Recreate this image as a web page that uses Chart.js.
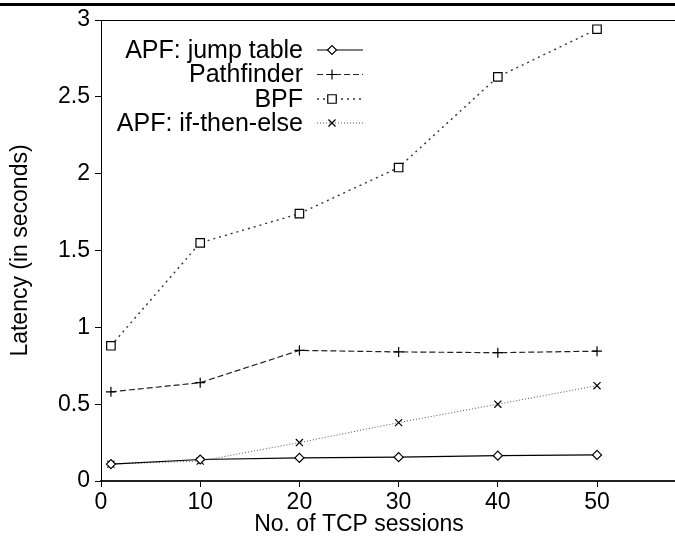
<!DOCTYPE html>
<html>
<head>
<meta charset="utf-8">
<script src="https://cdn.jsdelivr.net/npm/chart.js@4/dist/chart.umd.min.js"></script>
<style>
  html, body { margin: 0; padding: 0; background: #fff; overflow: hidden; }
  #wrap { position: relative; width: 675px; height: 542px; }
</style>
</head>
<body>
<div id="wrap"><canvas id="chart" width="675" height="542"></canvas></div>
<script>
// --- Data ---
const sessions = [1, 10, 20, 30, 40, 50];
const xTicks = [0, 10, 20, 30, 40, 50];
const yTicks = [0, 0.5, 1, 1.5, 2, 2.5, 3];

const apfJumpTable = [0.11, 0.14, 0.15, 0.155, 0.165, 0.17];
const pathfinder = [0.58, 0.64, 0.85, 0.84, 0.835, 0.845];
const bpf = [0.88, 1.55, 1.74, 2.04, 2.63, 2.94];
const apfIfThenElse = [0.11, 0.13, 0.25, 0.38, 0.50, 0.62];

const seriesNames = ['APF: jump table', 'Pathfinder', 'BPF', 'APF: if-then-else'];

const FONT = "'Liberation Sans', Arial, sans-serif";
const toPoints = arr => arr.map((v, i) => ({ x: sessions[i], y: v }));

const styles = [
    { color: '#000', dash: [], width: 1.2, point: 'rectRot', radius: 4.5 },
    { color: '#222', dash: [6, 3], width: 1.2, point: 'cross', radius: 5 },
    { color: '#333', dash: [2, 4], width: 1.4, point: 'rect', radius: 6 },
    { color: '#555', dash: [1, 2], width: 1, point: 'crossRot', radius: 5 }
];
const seriesData = [apfJumpTable, pathfinder, bpf, apfIfThenElse];

const datasets = seriesData.map((d, i) => ({
    label: seriesNames[i],
    data: toPoints(d),
    borderColor: styles[i].color,
    borderWidth: styles[i].width,
    borderDash: styles[i].dash,
    pointStyle: styles[i].point,
    pointRadius: styles[i].radius,
    pointBorderColor: '#000',
    pointBorderWidth: 1.2,
    pointBackgroundColor: '#fff',
    tension: 0,
    fill: false
}));

// legend drawn inside the plot: right-aligned text, line sample with marker on the right
const insideLegend = {
    id: 'insideLegend',
    afterDatasetsDraw(chart) {
        const ctx = chart.ctx;
        const rows = [50, 74.5, 99, 123];
        ctx.save();
        ctx.font = '25px ' + FONT;
        ctx.textAlign = 'right';
        ctx.textBaseline = 'middle';
        seriesNames.forEach((name, i) => {
            const y = rows[i];
            ctx.fillStyle = '#000';
            ctx.fillText(name, 303, y + 1);
            const s = styles[i];
            ctx.beginPath();
            ctx.setLineDash(s.dash);
            ctx.strokeStyle = s.color;
            ctx.lineWidth = s.width;
            ctx.moveTo(317, y);
            ctx.lineTo(363, y);
            ctx.stroke();
            ctx.setLineDash([]);
            ctx.fillStyle = '#fff';
            ctx.strokeStyle = '#000';
            ctx.lineWidth = 1.2;
            Chart.helpers.drawPoint(ctx, { pointStyle: s.point, radius: s.radius, rotation: 0, borderWidth: 1.2 }, 332, y);
        });
        ctx.restore();
    }
};

// frame line on top of plot, page rule, x title
const extras = {
    id: 'extras',
    afterDraw(chart) {
        const ctx = chart.ctx;
        const a = chart.chartArea;
        ctx.save();
        ctx.fillStyle = '#000';
        ctx.fillRect(0, 3, 675, 3);
        ctx.strokeStyle = '#000';
        ctx.lineWidth = 1;
        ctx.beginPath();
        ctx.moveTo(a.left, a.top + 0.5);
        ctx.lineTo(675, a.top + 0.5);
        ctx.stroke();
        ctx.font = '23px ' + FONT;
        ctx.textAlign = 'center';
        ctx.textBaseline = 'middle';
        ctx.fillText('No. of TCP sessions', 359, 525);
        ctx.restore();
    }
};

new Chart(document.getElementById('chart'), {
    type: 'line',
    data: { datasets },
    plugins: [insideLegend, extras],
    options: {
        responsive: false,
        animation: false,
        devicePixelRatio: 1,
        layout: { autoPadding: false, padding: { top: 20, right: 0, left: 0, bottom: 0 } },
        plugins: { legend: { display: false }, tooltip: { enabled: false } },
        scales: {
            x: {
                type: 'linear',
                min: 0,
                max: 57.86,
                afterBuildTicks: s => { s.ticks = xTicks.map(v => ({ value: v })); },
                afterFit: s => { s.height = 61; s.paddingLeft = 0; s.paddingRight = 0; },
                grid: { drawOnChartArea: false, tickLength: 6, color: '#000', tickColor: '#000' },
                border: { color: '#222', width: 2 },
                ticks: { color: '#000', font: { family: FONT, size: 23 }, padding: 2, maxRotation: 0, callback: v => String(v) }
            },
            y: {
                type: 'linear',
                min: 0,
                max: 3,
                afterBuildTicks: s => { s.ticks = yTicks.map(v => ({ value: v })); },
                afterFit: s => { s.width = 101; s.paddingTop = 0; s.paddingBottom = 0; },
                grid: { drawOnChartArea: false, tickLength: 6, color: '#000', tickColor: '#000' },
                border: { color: '#000', width: 1 },
                ticks: { color: '#000', font: { family: FONT, size: 23 }, padding: 5, callback: v => String(v) },
                title: {
                    display: true,
                    text: 'Latency (in seconds)',
                    color: '#000',
                    font: { family: FONT, size: 23 },
                    padding: { top: 7, bottom: 0 }
                }
            }
        }
    }
});
</script>
</body>
</html>
